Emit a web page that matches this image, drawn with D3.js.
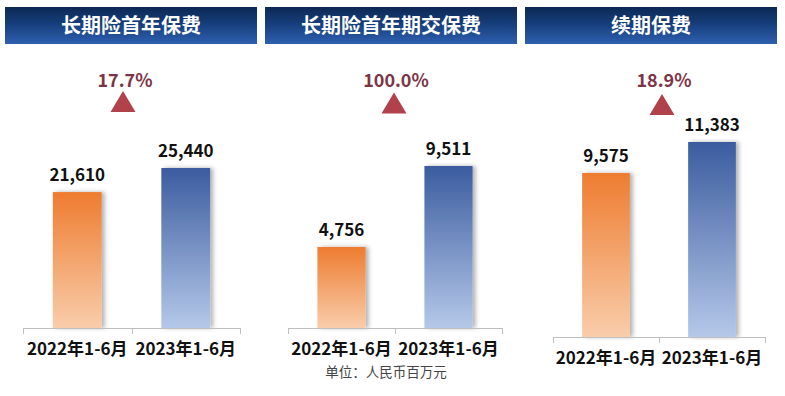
<!DOCTYPE html>
<html>
<head>
<meta charset="utf-8">
<script src="https://cdn.jsdelivr.net/npm/d3@7"></script>
<style>
  body { margin: 0; background: #fff; }
  svg { display: block; font-family: "Noto Sans CJK SC", "Noto Sans", sans-serif; }
</style>
</head>
<body>
<svg id="chart" width="785" height="396"></svg>
<script>
// data
var panelTitles = ["长期险首年保费", "长期险首年期交保费", "续期保费"];
var categories = ["2022年1-6月", "2023年1-6月"];
var values2022 = [21610, 4756, 9575];
var values2023 = [25440, 9511, 11383];
var growthLabels = ["17.7%", "100.0%", "18.9%"];
var unitLabel = "单位：人民币百万元";

// layout for each panel (header box, axis, top of tallest bar)
var panels = [
  { hx: 5,   x0: 23,  x1: 240, base: 328, top: 168, ax: 123 },
  { hx: 265, x0: 288, x1: 502, base: 328, top: 166, ax: 394 },
  { hx: 525, x0: 553, x1: 765, base: 337, top: 142, ax: 662 }
];
var headerW = 252, headerH = 37, headerY = 7;

var svg = d3.select("#chart");
var defs = svg.append("defs");

function vGrad(id, c1, c2) {
  var g = defs.append("linearGradient").attr("id", id)
    .attr("x1", 0).attr("y1", 0).attr("x2", 0).attr("y2", 1);
  g.append("stop").attr("offset", "0%").attr("stop-color", c1);
  g.append("stop").attr("offset", "100%").attr("stop-color", c2);
}
vGrad("gOrange", "#ee7c30", "#f9cdab");
vGrad("gBlue", "#3b5c9f", "#b5c8e9");

var hg = defs.append("linearGradient").attr("id", "gHead")
  .attr("x1", 0).attr("y1", 0).attr("x2", 0).attr("y2", 1);
hg.append("stop").attr("offset", "0%").attr("stop-color", "#0c2853");
hg.append("stop").attr("offset", "45%").attr("stop-color", "#163e7b");
hg.append("stop").attr("offset", "100%").attr("stop-color", "#2f5fb0");

var shadow = defs.append("filter").attr("id", "shadow")
  .attr("x", "-20%").attr("y", "-10%").attr("width", "150%").attr("height", "120%");
shadow.append("feDropShadow").attr("dx", 3).attr("dy", 0)
  .attr("stdDeviation", 2).attr("flood-color", "#000").attr("flood-opacity", 0.3);

panels.forEach(function(p, i) {
  var g = svg.append("g");
  var vals = [values2022[i], values2023[i]];

  // header
  g.append("rect")
    .attr("x", p.hx).attr("y", headerY)
    .attr("width", headerW).attr("height", headerH)
    .attr("fill", "url(#gHead)");
  g.append("text")
    .attr("x", p.hx + headerW / 2).attr("y", headerY + 26)
    .attr("text-anchor", "middle")
    .attr("fill", "#fff")
    .style("font-size", "20px").style("font-weight", "bold")
    .text(panelTitles[i]);

  var x = d3.scaleBand()
    .domain(categories)
    .range([p.x0, p.x1])
    .paddingInner(0.55).paddingOuter(0.275);
  var y = d3.scaleLinear()
    .domain([0, d3.max(vals)])
    .range([p.base, p.top]);

  // bars
  g.selectAll(".bar")
    .data(vals)
    .enter().append("rect")
    .attr("class", "bar")
    .attr("x", (d, j) => x(categories[j]))
    .attr("y", d => y(d))
    .attr("width", x.bandwidth())
    .attr("height", d => y(0) - y(d))
    .attr("fill", (d, j) => j == 0 ? "url(#gOrange)" : "url(#gBlue)")
    .attr("filter", "url(#shadow)");

  // value labels
  g.selectAll(".val")
    .data(vals)
    .enter().append("text")
    .attr("x", (d, j) => x(categories[j]) + x.bandwidth() / 2)
    .attr("y", d => y(d) - 11)
    .attr("text-anchor", "middle")
    .attr("fill", "#111")
    .style("font-size", "17px").style("font-weight", "bold")
    .text(d => d3.format(",")(d));

  // axis
  g.append("line")
    .attr("x1", p.x0).attr("x2", p.x1)
    .attr("y1", p.base + 0.5).attr("y2", p.base + 0.5)
    .attr("stroke", "#bfbfbf");
  var tickX = [p.x0, x(categories[1]) - x.step() * x.paddingInner() / 2, p.x1];
  g.selectAll(".tick")
    .data(tickX)
    .enter().append("line")
    .attr("x1", d => Math.round(d) + 0.5).attr("x2", d => Math.round(d) + 0.5)
    .attr("y1", p.base).attr("y2", p.base + 6)
    .attr("stroke", "#bfbfbf");

  g.selectAll(".cat")
    .data(categories)
    .enter().append("text")
    .attr("x", d => x(d) + x.bandwidth() / 2)
    .attr("y", p.base + 27)
    .attr("text-anchor", "middle")
    .attr("fill", "#111")
    .style("font-size", "17px").style("font-weight", "bold")
    .text(d => d);

  // growth annotation
  g.append("text")
    .attr("x", p.ax + 2).attr("y", 87)
    .attr("text-anchor", "middle")
    .attr("fill", "#7d3447")
    .style("font-size", "18px").style("font-weight", "bold")
    .text(growthLabels[i]);
  var ty = 91 + i * 1.5;
  g.append("path")
    .attr("d", "M" + p.ax + "," + ty + "L" + (p.ax + 12.5) + "," + (ty + 21) + "L" + (p.ax - 12.5) + "," + (ty + 21) + "Z")
    .attr("fill", "#b1414b");
});

svg.append("text")
  .attr("x", 386).attr("y", 377)
  .attr("text-anchor", "middle")
  .attr("fill", "#444")
  .style("font-size", "13.5px")
  .text(unitLabel);
</script>
</body>
</html>
